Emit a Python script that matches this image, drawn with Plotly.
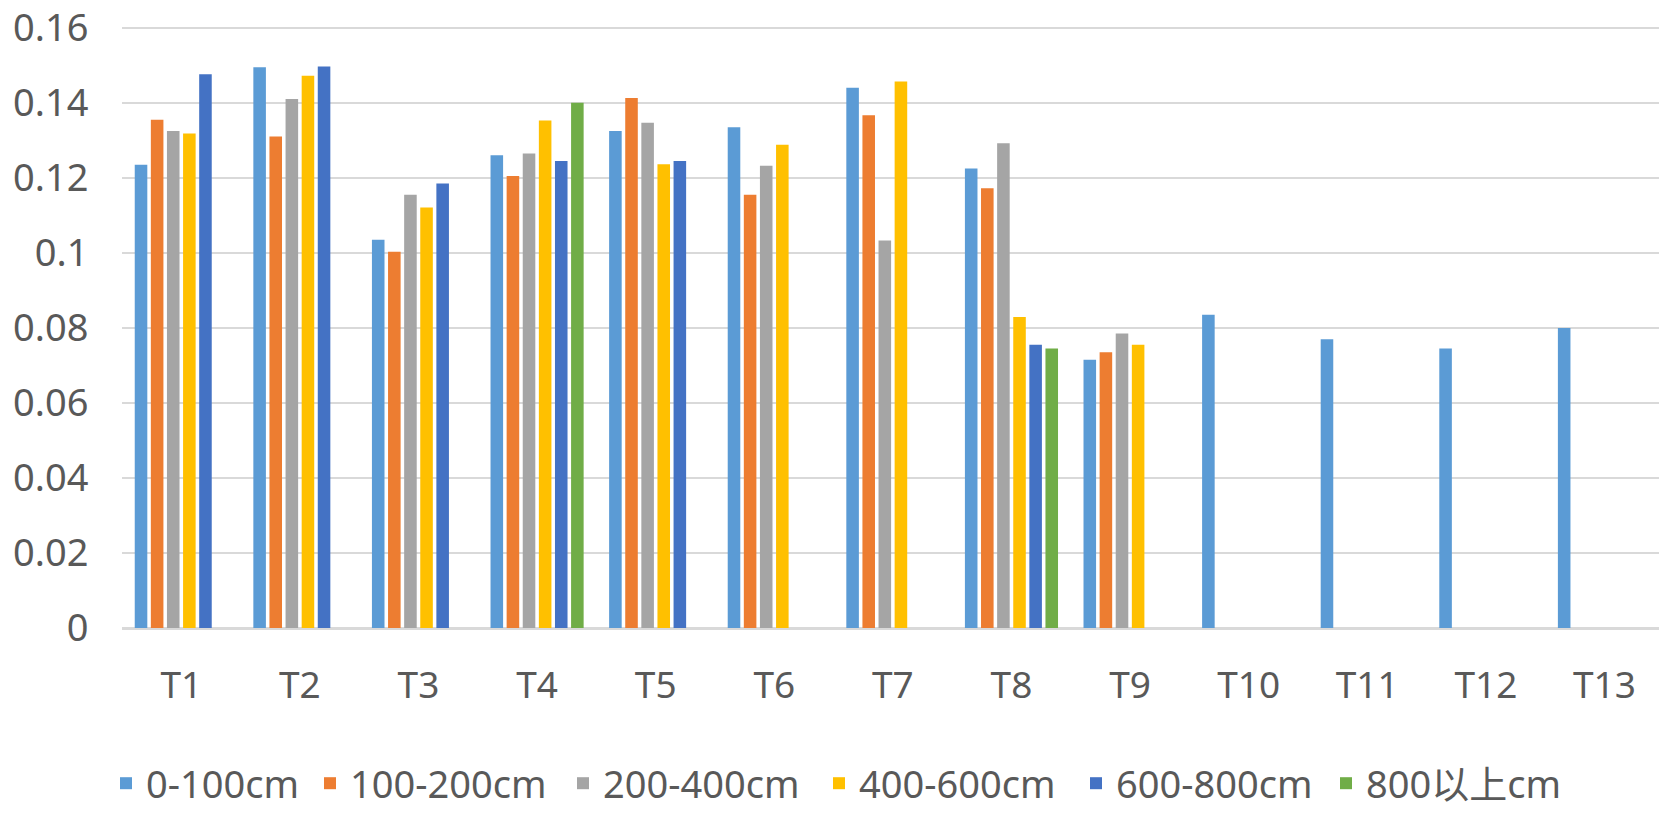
import plotly.graph_objects as go

# Categories along the x axis
categories = ["T1", "T2", "T3", "T4", "T5", "T6", "T7", "T8", "T9", "T10", "T11", "T12", "T13"]

# Depth bands (legend entries)
series_names = ["0-100cm", "100-200cm", "200-400cm", "400-600cm", "600-800cm", "800以上cm"]

# Values per depth band; None where a band has no data for that category
v_0_100 = [0.1235, 0.1495, 0.1035, 0.126, 0.1325, 0.1335, 0.144, 0.1225, 0.0715, 0.0835, 0.077, 0.0745, 0.080]
v_100_200 = [0.1355, 0.131, 0.1003, 0.1205, 0.1413, 0.1155, 0.1367, 0.1172, 0.0735, None, None, None, None]
v_200_400 = [0.1325, 0.141, 0.1155, 0.1265, 0.1347, 0.1232, 0.1033, 0.1292, 0.0785, None, None, None, None]
v_400_600 = [0.1318, 0.1472, 0.1121, 0.1353, 0.1236, 0.1288, 0.1457, 0.0829, 0.0755, None, None, None, None]
v_600_800 = [0.1476, 0.1497, 0.1185, 0.1245, 0.1245, None, None, 0.0755, None, None, None, None, None]
v_800_up = [None, None, None, 0.140, None, None, None, 0.0745, None, None, None, None, None]

# Y axis ticks
y_tickvals = [0, 0.02, 0.04, 0.06, 0.08, 0.1, 0.12, 0.14, 0.16]
y_ticktext = ["0", "0.02", "0.04", "0.06", "0.08", "0.1", "0.12", "0.14", "0.16"]

series_values = [v_0_100, v_100_200, v_200_400, v_400_600, v_600_800, v_800_up]
series_colors = ["#5B9BD5", "#ED7D31", "#A5A5A5", "#FFC000", "#4472C4", "#70AD47"]

FONT = "Noto Sans, Noto Sans CJK SC, sans-serif"
TEXT_COLOR = "#595959"
GRID_COLOR = "#D9D9D9"

WIDTH, HEIGHT = 1659, 815
M_L, M_R, M_T, M_B = 122, 0, 19, 182
PLOT_W = WIDTH - M_L - M_R

# Left edge (px) of each legend entry along the bottom row
legend_left_px = [106, 310, 563, 819, 1076, 1326]
legend_ids = ["legend", "legend2", "legend3", "legend4", "legend5", "legend6"]

fig = go.Figure()
for name, vals, color, lid in zip(series_names, series_values, series_colors, legend_ids):
    fig.add_trace(go.Bar(
        x=categories,
        y=vals,
        name=name,
        legend=lid,
        marker=dict(color=color, line=dict(width=0)),
    ))

legend_layouts = {}
for lid, px in zip(legend_ids, legend_left_px):
    legend_layouts[lid] = dict(
        orientation="h",
        x=(px - M_L) / PLOT_W,
        xanchor="left",
        y=-0.258,
        yanchor="middle",
        font=dict(family=FONT, size=38, color=TEXT_COLOR),
        itemclick=False,
        itemdoubleclick=False,
        bgcolor="rgba(0,0,0,0)",
    )

fig.update_layout(
    width=WIDTH,
    height=HEIGHT,
    margin=dict(l=M_L, r=M_R, t=M_T, b=M_B),
    paper_bgcolor="white",
    plot_bgcolor="white",
    barmode="group",
    bargap=0.185,
    bargroupgap=0.22,
    font=dict(family=FONT, size=36, color=TEXT_COLOR),
    showlegend=True,
    xaxis=dict(
        type="category",
        range=[-0.5, 12.46],
        showgrid=False,
        showline=True,
        linecolor=GRID_COLOR,
        linewidth=2,
        ticks="outside",
        ticklen=24,
        tickcolor="rgba(0,0,0,0)",
        tickfont=dict(family=FONT, size=37, color=TEXT_COLOR),
    ),
    yaxis=dict(
        range=[0, 0.161],
        tickmode="array",
        tickvals=y_tickvals,
        ticktext=y_ticktext,
        ticklabeloverflow="allow",
        showgrid=True,
        gridcolor=GRID_COLOR,
        gridwidth=2,
        zeroline=True,
        zerolinecolor=GRID_COLOR,
        zerolinewidth=2,
        showline=False,
        ticks="outside",
        ticklen=25,
        tickcolor="rgba(0,0,0,0)",
        tickfont=dict(family=FONT, size=38, color=TEXT_COLOR),
    ),
    **legend_layouts,
)

fig.write_html("out.html")
